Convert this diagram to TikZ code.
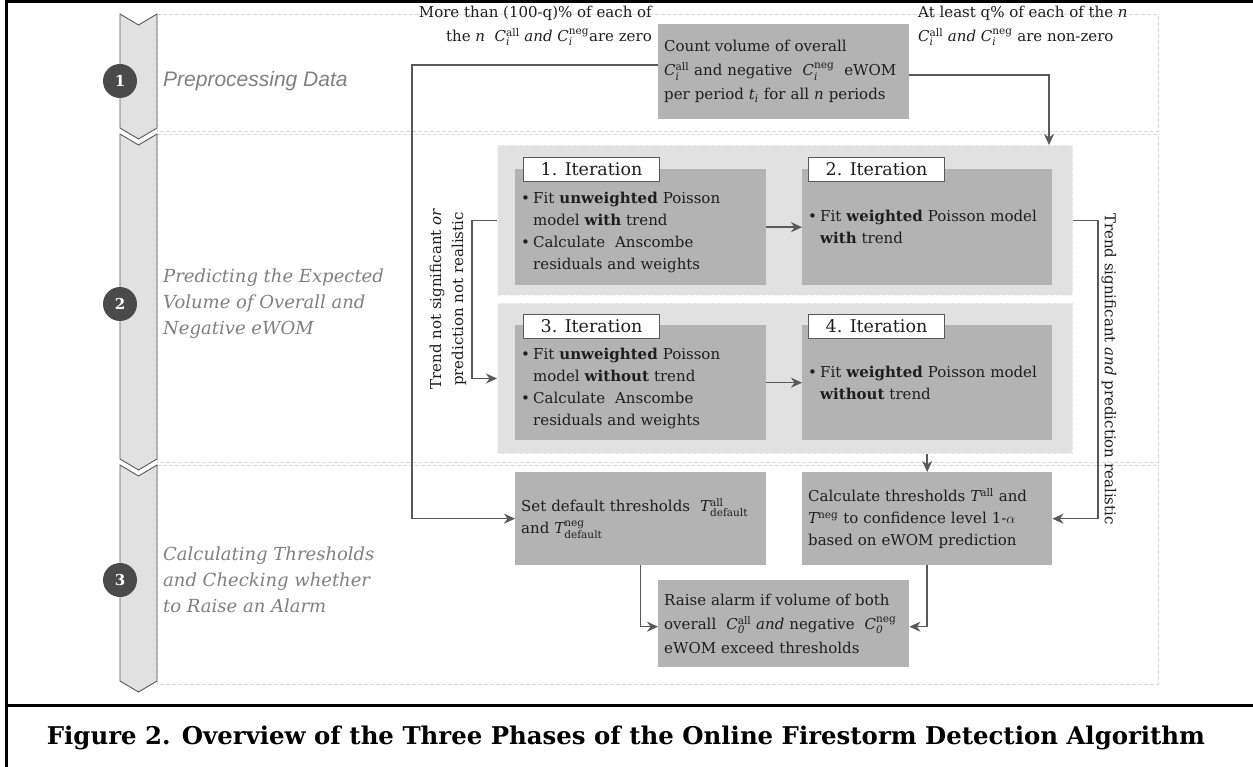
\documentclass[tikz,border=0pt]{standalone}
\usepackage{fontspec}
\setmainfont{DejaVu Serif}
\newfontfamily\phasesans{Liberation Sans}
\usetikzlibrary{arrows.meta}
\definecolor{rowdash}{HTML}{D9D9D9}
\definecolor{grpfill}{HTML}{E1E1E1}
\definecolor{grpdash}{HTML}{F2F2F2}
\definecolor{boxfill}{HTML}{B3B3B3}
\definecolor{linecol}{HTML}{595959}
\definecolor{phasefill}{HTML}{E1E1E1}
\definecolor{circdark}{HTML}{4A4A4A}
\definecolor{phtext}{HTML}{808080}
\definecolor{bodytext}{HTML}{1E1E1E}
\newcommand\bodyfont{\fontsize{15}{22}\selectfont}
\newcommand\widefont{\fontsize{15}{24}\selectfont}
\newcommand\bul{\makebox[12pt][l]{\textbullet}}
\newcommand\ind{\hspace*{12pt}}
\newcommand\Cv[2]{$\mathit{C}_{\mathit{#1}}^{\mathrm{#2}}$}
\newcommand\mv[1]{$\mathit{#1}$}
\tikzset{
  conn/.style={draw=linecol, line width=1.5pt},
  arr/.style={conn, -{Stealth[length=11pt,width=10pt,inset=3.5pt]}},
  rowbox/.style={draw=rowdash, dash pattern=on 4pt off 2pt, line width=1pt},
  phase/.style={fill=phasefill, draw=linecol, line width=0.9pt, line join=miter},
  grp/.style={fill=grpfill, draw=grpdash, dash pattern=on 4pt off 2pt, line width=1pt,
    anchor=north west, minimum width=575pt, minimum height=150pt, inner sep=0pt},
  graybox/.style={fill=boxfill, anchor=north west, inner xsep=6pt, inner ysep=0pt,
    text width=239pt, minimum height=#1, align=left, font=\bodyfont, text=bodytext},
  itlabel/.style={draw=linecol, fill=white, line width=1pt, minimum width=136pt,
    minimum height=24pt, inner sep=0pt, anchor=north west,
    font=\fontsize{17.5}{20}\selectfont, text=bodytext},
  num/.style={circle, fill=circdark, text=white, minimum size=34pt, inner sep=0pt,
    font=\bfseries\fontsize{15}{15}\selectfont},
  phlabel/.style={anchor=west, align=left, text=phtext, inner sep=0pt,
    font=\itshape\fontsize{18}{26}\selectfont},
  note/.style={font=\bodyfont, text=bodytext, inner sep=0pt}
}
\begin{document}
\begin{tikzpicture}[x=1pt,y=-1pt]
\useasboundingbox (0,0) rectangle (1253,767);
\fill[white] (0,0) rectangle (1253,767);
% frame
\draw[line width=3pt] (1270,2) -- (6,2) -- (6,790);
\draw[line width=3pt] (6,705) -- (1270,705);
% rows
\draw[rowbox] (157,15) rectangle (1158,132);
\draw[rowbox] (157,135) rectangle (1158,462);
\draw[rowbox] (157,465) rectangle (1158,684);
% phase chevrons
\draw[phase] (120,14) -- (138.5,25) -- (157,14) -- (157,128) -- (138.5,139) -- (120,128) -- cycle;
\draw[phase] (120,134) -- (138.5,145) -- (157,134) -- (157,459) -- (138.5,470) -- (120,459) -- cycle;
\draw[phase] (120,465) -- (138.5,476) -- (157,465) -- (157,681) -- (138.5,692) -- (120,681) -- cycle;
\node[num] (n1) at (120,81) {1};
\node[num] (n2) at (120,304) {2};
\node[num] (n3) at (120,580) {3};
\node[phlabel, font=\phasesans\itshape\fontsize{21}{24}\selectfont] (p1) at (163,81) {Preprocessing Data};
\node[phlabel] (p2) at (163,304) {Predicting the Expected\\Volume of Overall and\\Negative eWOM};
\node[phlabel] (p3) at (163,580) {Calculating Thresholds\\and Checking whether\\to Raise an Alarm};
% phase 1
\node[graybox=95pt, font=\widefont] (count) at (658,24) {Count volume of overall\\
  \Cv{i}{all} and negative \ \Cv{i}{neg} \ eWOM\\
  per period \mv{t_i} for all \mv{n} periods};
\node[note, font=\widefont, anchor=east, align=right] (lzero) at (652,26)
  {More than (100-q)\% of each of\\the \mv{n} \ \Cv{i}{all} \textit{and} \Cv{i}{neg}are zero};
\node[note, font=\widefont, anchor=west, align=left] (rzero) at (918,26)
  {At least q\% of each of the \mv{n}\\\Cv{i}{all} \textit{and} \Cv{i}{neg} are non-zero};
% phase 2
\node[grp] (g1) at (497,145) {};
\node[grp] (g2) at (497,303) {};
\node[graybox=116pt] (it1) at (515,169) {\mbox{}\\
  \bul Fit \textbf{unweighted} Poisson\\
  \ind model \textbf{with} trend\\
  \bul Calculate \ Anscombe\\
  \ind residuals and weights};
\node[graybox=116pt, text width=238pt] (it2) at (802,169) {\bul Fit \textbf{weighted} Poisson model\\
  \ind\textbf{with} trend};
\node[graybox=115pt] (it3) at (515,325) {\mbox{}\\
  \bul Fit \textbf{unweighted} Poisson\\
  \ind model \textbf{without} trend\\
  \bul Calculate \ Anscombe\\
  \ind residuals and weights};
\node[graybox=115pt, text width=238pt] (it4) at (802,325) {\bul Fit \textbf{weighted} Poisson model\\
  \ind\textbf{without} trend};
\node[itlabel] (l1) at (523,157) {1. Iteration};
\node[itlabel] (l2) at (808,157) {2. Iteration};
\node[itlabel] (l3) at (523,314) {3. Iteration};
\node[itlabel] (l4) at (808,314) {4. Iteration};
\node[note, rotate=90, align=center] (notsig) at (448,299)
  {Trend not significant \textit{or}\\prediction not realistic};
\node[note, rotate=-90] (sig) at (1109,369)
  {Trend significant \textit{and} prediction realistic};
% phase 3
\node[graybox=93pt] (setdef) at (515,472)
  {Set default thresholds \ $\mathit{T}^{\mathrm{all}}_{\mathrm{default}}$\\and $\mathit{T}^{\mathrm{neg}}_{\mathrm{default}}$};
\node[graybox=93pt, text width=238pt] (calc) at (802,472)
  {Calculate thresholds $\mathit{T}^{\mathrm{all}}$ and\\$\mathit{T}^{\mathrm{neg}}$ to confidence level 1-$\alpha$\\based on eWOM prediction};
\node[graybox=87pt, font=\widefont] (alarm) at (658,580)
  {Raise alarm if volume of both\\overall \ \Cv{0}{all} \textit{and} negative \ \Cv{0}{neg}\\eWOM exceed thresholds};
% connectors
\draw[arr] ([yshift=6.5pt]count.west) -- ++(-246,0) |- (setdef.west);
\draw[arr] ([yshift=-3.5pt]count.east) -| ([xshift=-24pt]g1.north east);
\draw[arr] (it1.east) -- (it2.west);
\draw[arr] (it3.east) -- (it4.west);
\draw[arr] (g1.west) -- ++(-25,0) |- (g2.west);
\draw[arr] (g1.east) -- ++(25,0) |- (calc.east);
\draw[arr] (g2.south -| calc.north) -- (calc.north);
\draw[arr] (setdef.south) |- ([yshift=-3pt]alarm.west);
\draw[arr] (calc.south) |- ([yshift=-3pt]alarm.east);
% caption
\node[inner sep=0pt, font=\bfseries\fontsize{24.4}{30}\selectfont] (cap) at (626,738)
  {Figure 2. Overview of the Three Phases of the Online Firestorm Detection Algorithm};
\end{tikzpicture}
\end{document}
